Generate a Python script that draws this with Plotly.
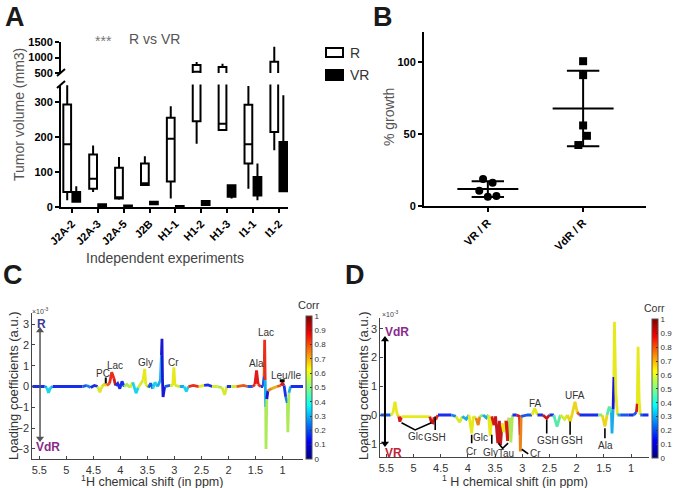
import numpy as np
import plotly.graph_objects as go

W, H = 674, 488
F = "Liberation Sans, Arial, sans-serif"


def px(x):
    return x / W


def py(y):
    return 1 - y / H


# ---------------- Panel A data ----------------
experiments = ["J2A-2", "J2A-3", "J2A-5", "J2B", "H1-1", "H1-2", "H1-3", "I1-1", "I1-2"]
R_min = [19, 43, 21, 60, 24, 181, 218, 52, 162]
R_q1 = [43, 52, 24, 63, 73, 245, 220, 124, 214]
R_med = [179, 81, 28, 68, 195, 540, 238, 179, 420]
R_q3 = [293, 150, 112, 124, 255, 758, 690, 292, 865]
R_max = [348, 176, 143, 145, 288, 855, 800, 346, 1348]
VR_min = [12, 1, 0.5, 5, 0.5, 4, 24, 19, 43]
VR_q1 = [15, 3, 1, 8, 1, 6, 29, 33, 45]
VR_med = [25, 5, 2, 11, 2, 11, 45, 60, 100]
VR_q3 = [43, 8, 4, 15, 3, 17, 62, 86, 186]
VR_max = [59, 10, 5, 17, 4, 20, 65, 124, 319]

# ---------------- Panel B data ----------------
b_groups = ["VR / R", "VdR / R"]
vr_r_vals = [18.7, 16.2, 10.6, 6.5, 6.9]
vr_r_offsets = [-0.05, 0.05, -0.09, 0.0, 0.09]
vdr_r_vals = [100.7, 91.0, 56.0, 48.8, 42.4]
vdr_r_offsets = [0.0, 0.0, 0.0, 0.04, -0.05]

# ---------------- Panel C data (ppm, loading x1e-3, corr) ----------------
c_ppm = [5.63, 5.40, 5.36, 5.33, 5.29, 5.25, 4.70, 4.62, 4.55, 4.48, 4.42, 4.38, 4.34, 4.30, 4.25,
         4.20, 4.16, 4.12, 4.09, 4.05, 4.01, 3.97, 3.93, 3.88, 3.82, 3.77, 3.71, 3.67, 3.62, 3.58,
         3.55, 3.53, 3.48, 3.44, 3.40, 3.36, 3.31, 3.26, 3.24, 3.23, 3.22, 3.21, 3.18, 3.08, 3.03,
         3.01, 2.99, 2.90, 2.82, 2.78, 2.74, 2.65, 2.55, 2.45, 2.38, 2.30, 2.20, 2.12, 2.07, 2.03,
         1.95, 1.85, 1.72, 1.65, 1.55, 1.51, 1.48, 1.45, 1.40, 1.36, 1.34, 1.335, 1.33, 1.32, 1.31,
         1.305, 1.29, 1.27, 1.20, 1.10, 1.03, 1.00, 0.97, 0.94, 0.91, 0.90, 0.88, 0.85, 0.62]
c_load = [0, 0, -0.05, -0.3, -0.05, 0, 0, 0.05, -0.05, 0.05, 0, -0.27, 0, 0.1, 0.05,
          0.15, 0.69, 0.4, 0.05, 0.15, -0.1, 0.25, 0, 0.1, -0.05, 0.2, -0.32, -0.05, 0.16, 0.3,
          0.85, 0.1, -0.05, 0.15, -0.1, 0.2, 0, 0.3, 1.5, 2.3, 0.3, -0.5, 0, 0.05, 0.05,
          0.92, 0.05, 0, 0, -0.23, 0, 0.05, 0, 0.05, 0.08, 0, 0, -0.05, -0.4, 0,
          0, 0, 0.05, 0, 0, 0.1, 0.77, 0.1, 0, 0, 0.5, 1.2, 2.25, 0.3, -1.0,
          -3.0, -0.6, -0.2, -0.1, 0, 0.05, 0.15, 0.05, -0.5, -0.8, -2.2, -0.3, 0, 0]
c_corr = [0.15, 0.15, 0.3, 0.35, 0.3, 0.15, 0.15, 0.2, 0.25, 0.15, 0.5, 0.6, 0.55, 0.65, 0.7,
          0.8, 0.85, 0.9, 0.8, 0.15, 0.1, 0.15, 0.3, 0.55, 0.4, 0.6, 0.35, 0.2, 0.6, 0.6,
          0.62, 0.6, 0.3, 0.2, 0.1, 0.35, 0.15, 0.3, 0.3, 0.1, 0.1, 0.1, 0.15, 0.2, 0.6,
          0.62, 0.6, 0.6, 0.3, 0.35, 0.3, 0.85, 0.62, 0.6, 0.15, 0.2, 0.6, 0.55, 0.6, 0.3,
          0.15, 0.6, 0.8, 0.15, 0.2, 0.85, 0.88, 0.85, 0.2, 0.15, 0.2, 0.8, 0.85, 0.3, 0.3,
          0.55, 0.1, 0.75, 0.7, 0.65, 0.8, 0.9, 0.6, 0.15, 0.25, 0.55, 0.3, 0.15, 0.15]

# ---------------- Panel D data ----------------
d_ppm = [5.61, 5.42, 5.38, 5.34, 5.30, 5.27, 5.25, 5.22, 4.70, 4.67, 4.64, 4.62, 4.58, 4.55, 4.30,
         4.22, 4.15, 4.10, 4.03, 3.98, 3.93, 3.90, 3.85, 3.81, 3.78, 3.72, 3.66, 3.62, 3.59, 3.56,
         3.52, 3.49, 3.45, 3.42, 3.40, 3.37, 3.34, 3.30, 3.27, 3.24, 3.21, 3.18, 3.10, 3.05, 3.04,
         3.035, 3.02, 2.90, 2.82, 2.77, 2.72, 2.62, 2.55, 2.50, 2.42, 2.36, 2.30, 2.22, 2.17, 2.12,
         2.08, 2.03, 1.99, 1.95, 1.60, 1.53, 1.48, 1.44, 1.40, 1.36, 1.35, 1.33, 1.315, 1.305, 1.28,
         1.25, 1.20, 1.05, 0.95, 0.90, 0.885, 0.87, 0.85, 0.83, 0.78, 0.675]
d_load = [0, 0, 0.05, 0.46, 0.02, -0.05, -0.23, -0.06, -0.06, -0.25, -0.27, -0.08, -0.12, 0, 0,
          -0.05, -0.25, -0.05, -0.15, 0, -0.64, -0.05, -0.1, -0.35, -0.05, 0, -0.1, 0, -0.73, -0.05,
          -0.35, -0.05, -0.98, -0.2, -1.05, -0.3, -0.6, -0.2, -0.9, -0.1, -0.95, 0, 0, -0.05, -0.7,
          -1.27, -0.05, 0, 0, 0.23, 0, 0, -0.12, 0, 0, -0.4, 0, -0.15, 0, -0.23,
          0.05, 0.46, 0.1, 0, 0, 0, -0.4, 0, 0.29, 0.1, -0.64, 0.2, 1.33, 3.24, 0.8,
          0, 0, 0, 0, 0.1, 0.4, 2.37, 0.5, 0, 0, 0]
d_corr = [0.15, 0.2, 0.6, 0.62, 0.6, 0.65, 0.9, 0.65, 0.62, 0.92, 0.92, 0.9, 0.85, 0.2, 0.15,
          0.25, 0.6, 0.3, 0.3, 0.2, 0.62, 0.4, 0.6, 0.75, 0.5, 0.2, 0.3, 0.35, 0.62, 0.65,
          0.9, 0.8, 0.92, 0.9, 0.92, 0.65, 0.62, 0.6, 0.9, 0.3, 0.55, 0.2, 0.15, 0.9, 0.9,
          0.75, 0.2, 0.15, 0.2, 0.62, 0.3, 0.15, 0.92, 0.6, 0.15, 0.45, 0.3, 0.6, 0.35, 0.65,
          0.62, 0.65, 0.8, 0.15, 0.15, 0.5, 0.65, 0.45, 0.45, 0.35, 0.3, 0.2, 0.1, 0.62, 0.62,
          0.6, 0.3, 0.2, 0.15, 0.2, 0.9, 0.62, 0.62, 0.85, 0.2, 0.15]

ppm_ticks = [5.5, 5, 4.5, 4, 3.5, 3, 2.5, 2, 1.5, 1]
corr_ticks = [round(0.1 * i, 1) for i in range(11)]

JET = [[0, "rgb(0,0,128)"], [0.125, "rgb(0,0,255)"], [0.375, "rgb(0,255,255)"],
       [0.625, "rgb(255,255,0)"], [0.875, "rgb(255,0,0)"], [1, "rgb(128,0,0)"]]
JET_STOPS = [(0, (0, 0, 128)), (0.125, (0, 0, 255)), (0.375, (0, 255, 255)),
             (0.625, (255, 255, 0)), (0.875, (255, 0, 0)), (1, (128, 0, 0))]


def jet(v):
    v = min(max(v, 0), 1)
    for (a, ca), (b, cb) in zip(JET_STOPS[:-1], JET_STOPS[1:]):
        if a <= v <= b:
            t = (v - a) / (b - a)
            c = [ca[k] + t * (cb[k] - ca[k]) for k in range(3)]
            c = [0.82 * c[k] + 0.18 * 140 for k in range(3)]
            return "rgb(%d,%d,%d)" % tuple(int(round(x)) for x in c)
    return "rgb(0,0,0)"


fig = go.Figure()

# ---------------- Panel A boxes ----------------
xr = [i - 0.18 for i in range(len(experiments))]
xv = [i + 0.17 for i in range(len(experiments))]
for yax in ["y", "y2"]:
    fig.add_trace(go.Box(x=xr, q1=R_q1, median=R_med, q3=R_q3, lowerfence=R_min, upperfence=R_max,
                         xaxis="x", yaxis=yax, fillcolor="white", line=dict(color="black", width=2),
                         width=0.3, whiskerwidth=0, boxpoints=False, showlegend=False, hoverinfo="skip"))
fig.add_trace(go.Box(x=xv, q1=VR_q1, median=VR_med, q3=VR_q3, lowerfence=VR_min, upperfence=VR_max,
                     xaxis="x", yaxis="y", fillcolor="black", line=dict(color="black", width=2),
                     width=0.3, whiskerwidth=0, boxpoints=False, showlegend=False, hoverinfo="skip"))

# ---------------- Panel B ----------------
for gi, (vals, offs, sym) in enumerate([(vr_r_vals, vr_r_offsets, "circle"),
                                         (vdr_r_vals, vdr_r_offsets, "square")]):
    fig.add_trace(go.Scatter(x=[gi + o for o in offs], y=vals, mode="markers", xaxis="x2", yaxis="y3",
                             marker=dict(symbol=sym, size=8, color="black"), showlegend=False,
                             hoverinfo="skip"))
    m = float(np.mean(vals))
    s = float(np.std(vals, ddof=1))
    lx = [gi - 0.32, gi + 0.32, None, gi, gi, None, gi - 0.17, gi + 0.17, None, gi - 0.17, gi + 0.17]
    ly = [m, m, None, m - s, m + s, None, m + s, m + s, None, m - s, m - s]
    fig.add_trace(go.Scatter(x=lx, y=ly, mode="lines", xaxis="x2", yaxis="y3",
                             line=dict(color="black", width=2), showlegend=False, hoverinfo="skip"))


# ---------------- Panels C / D spectra ----------------
def add_spectrum(ppm, load, corr, xa, ya):
    runs = []
    for i in range(len(ppm) - 1):
        c = corr[i] if abs(load[i]) > abs(load[i + 1]) else corr[i + 1]
        col = jet(c)
        if runs and runs[-1][0] == col:
            runs[-1][1].append(ppm[i + 1])
            runs[-1][2].append(load[i + 1])
        else:
            runs.append([col, [ppm[i], ppm[i + 1]], [load[i], load[i + 1]]])
    for col, rx, ry in runs:
        fig.add_trace(go.Scatter(x=rx, y=ry, mode="lines", xaxis=xa, yaxis=ya,
                                 line=dict(color=col, width=2.8), showlegend=False, hoverinfo="skip"))


add_spectrum(c_ppm, c_load, c_corr, "x3", "y4")
add_spectrum(d_ppm, d_load, d_corr, "x4", "y5")


def cbar(xa, ya, x0, yc, ln):
    fig.add_trace(go.Scatter(
        x=[3.0], y=[0], mode="markers", xaxis=xa, yaxis=ya, showlegend=False, hoverinfo="skip",
        marker=dict(size=1, opacity=0, color=[0.5], colorscale=JET, cmin=0, cmax=1, showscale=True,
                    colorbar=dict(x=px(x0), xref="paper", xanchor="left", xpad=0,
                                  y=py(yc), yref="paper", yanchor="middle", ypad=0,
                                  len=ln / H, lenmode="fraction", thickness=6, thicknessmode="pixels",
                                  outlinewidth=1, outlinecolor="#555", tickvals=corr_ticks,
                                  ticktext=[("%g" % v) for v in corr_ticks], ticks="inside", ticklen=2,
                                  tickcolor="#333", tickfont=dict(family=F, size=8, color="#333")))))


cbar("x3", "y4", 306, 387.4, 143.3)
cbar("x4", "y5", 652, 388.8, 139)


# double-headed arrows (line + triangle heads)
def darrow(xa, ya, xx, ytop, ybot, col, w):
    fig.add_trace(go.Scatter(x=[xx, xx], y=[ytop, ybot], mode="lines", xaxis=xa, yaxis=ya,
                             line=dict(color=col, width=w), showlegend=False, hoverinfo="skip"))
    fig.add_trace(go.Scatter(x=[xx, xx], y=[ytop, ybot], mode="markers", xaxis=xa, yaxis=ya,
                             marker=dict(symbol=["triangle-up", "triangle-down"], size=7, color=col),
                             showlegend=False, hoverinfo="skip"))


darrow("x3", "y4", 5.487, 2.7, -2.5, "#555", 1.5)
darrow("x4", "y5", 5.524, 2.62, -0.99, "black", 2)

# ---------------- Layout ----------------
bold_tick = dict(family=F, size=11, color="black", weight="bold")
gray_tick = dict(family=F, size=11, color="#333")
prism = dict(showgrid=False, zeroline=False, showline=True, linecolor="black", linewidth=2,
             ticks="outside", ticklen=4, tickwidth=1.5, tickcolor="black", tickfont=bold_tick,
             automargin=False)
matlab = dict(showgrid=False, zeroline=False, showline=True, linecolor="#444", linewidth=1,
              ticks="inside", ticklen=3, tickwidth=1, tickcolor="#444", tickfont=gray_tick,
              automargin=False)

fig.update_layout(
    template="none",
    width=W, height=H, autosize=False, margin=dict(l=0, r=0, t=0, b=0, pad=0, autoexpand=False),
    paper_bgcolor="white", plot_bgcolor="white", showlegend=False,
    font=dict(family=F),
    xaxis=dict(prism, domain=[px(61), px(288)], range=[-0.42, 8.35], anchor="y",
               tickvals=list(range(len(experiments))), ticktext=experiments, tickangle=-45),
    yaxis=dict(prism, domain=[py(207), py(84.5)], range=[0, 350], anchor="x",
               tickvals=[0, 100, 200, 300]),
    yaxis2=dict(prism, domain=[py(73), py(42)], range=[500, 1500], anchor="x",
                tickvals=[500, 1000, 1500]),
    xaxis2=dict(prism, domain=[px(424), px(646)], range=[-0.67, 1.66], anchor="y3",
                tickvals=[0, 1], ticktext=b_groups, tickangle=-45),
    yaxis3=dict(prism, domain=[py(206), py(32)], range=[0, 121], anchor="x2",
                tickvals=[0, 50, 100]),
    xaxis3=dict(matlab, domain=[px(32.3), px(303)], range=[5.63, 0.62], anchor="y4",
                tickvals=ppm_ticks, ticktext=[("%g" % v) for v in ppm_ticks]),
    yaxis4=dict(matlab, domain=[py(459.3), py(312.7)], range=[-3.5, 3.55], anchor="x3",
                tickvals=[-3, -2, -1, 0, 1, 2, 3]),
    xaxis4=dict(matlab, domain=[px(380.3), px(648.7)], range=[5.61, 0.675], anchor="y5",
                tickvals=ppm_ticks, ticktext=[("%g" % v) for v in ppm_ticks]),
    yaxis5=dict(matlab, domain=[py(457.3), py(318.3)], range=[-1.47, 3.36], anchor="x4",
                tickvals=[-1, 0, 1, 2, 3]),
)

shapes = []
# broken-axis marks
for (x0, y0, x1, y1) in [(57, 76, 65, 69), (57, 88, 65, 81)]:
    shapes.append(dict(type="line", xref="paper", yref="paper", x0=px(x0), y0=py(y0), x1=px(x1), y1=py(y1),
                       line=dict(color="black", width=2)))
# legend boxes (panel A)
shapes.append(dict(type="rect", xref="paper", yref="paper", x0=px(326), x1=px(343), y0=py(57), y1=py(48),
                   line=dict(color="black", width=2), fillcolor="white"))
shapes.append(dict(type="rect", xref="paper", yref="paper", x0=px(326), x1=px(343), y0=py(80), y1=py(70),
                   line=dict(color="black", width=2), fillcolor="black"))
# panel C markers
shapes.append(dict(type="line", xref="x3", yref="y4", x0=4.27, x1=4.27, y0=0.15, y1=0.43,
                   line=dict(color="black", width=2)))
shapes.append(dict(type="line", xref="x3", yref="y4", x0=1.05, x1=0.96, y0=0.28, y1=0.28,
                   line=dict(color="black", width=3)))
# panel D markers
d_marks = [
    ([5.22, 4.97, 4.67], [-0.27, -0.52, -0.27]),
    ([4.60, 4.60], [-0.06, -0.52]),
    ([3.93, 3.93], [-0.69, -0.98]),
    ([3.56, 3.56], [-0.69, -1.0]),
    ([3.44, 3.36, 3.26], [-0.98, -1.16, -0.98]),
    ([3.01, 2.89], [-1.19, -1.35]),
    ([2.55, 2.55], [-0.17, -0.64]),
    ([2.12, 2.12], [-0.23, -0.69]),
    ([1.48, 1.48], [-0.46, -0.81]),
]
for mx, my in d_marks:
    path = "M %g,%g " % (mx[0], my[0]) + " ".join("L %g,%g" % (a, b) for a, b in zip(mx[1:], my[1:]))
    shapes.append(dict(type="path", xref="x4", yref="y5", path=path, line=dict(color="black", width=1.6)))
fig.update_layout(shapes=shapes)

anns = []


def T(text, x, y, size=12, color="#333", bold=False, xanchor="center", yanchor="middle", angle=0):
    anns.append(dict(text=text, x=px(x), y=py(y), xref="paper", yref="paper", showarrow=False,
                     xanchor=xanchor, yanchor=yanchor, textangle=angle,
                     font=dict(family=F, size=size, color=color, weight="bold" if bold else "normal")))


# panel letters
T("A", 3, 0, 27, "#1a1a1a", True, "left", "top")
T("B", 371, 0, 27, "#1a1a1a", True, "left", "top")
T("C", 1, 275, 27, "#1a1a1a", True, "left")
T("D", 343, 275, 27, "#1a1a1a", True, "left")
# panel A texts
T("***", 103, 41, 14, "#777")
T("R vs VR", 154, 39, 14, "#555")
T("R", 348, 53, 14, "#333", xanchor="left")
T("VR", 348, 75, 14, "#333", xanchor="left")
T("Tumor volume (mm3)", 19, 115, 14, "#555", angle=-90)
T("Independent experiments", 165, 258, 14, "#444")
# panel B texts
T("% growth", 389, 117, 14, "#555", angle=-90)
# panel C texts
T("×10<sup>-3</sup>", 30, 311, 7, "#444", xanchor="left")
T("R", 35, 324, 12, "#3a3a9a", True, "left")
T("VdR", 34, 447, 12, "#8a2a8a", True, "left")
T("Loading coefficients (a.u.)", 13, 386, 13, "#333", angle=-90)
T("<sup>1</sup>H chemical shift (in ppm)", 152, 481, 12.5, "#333")
T("Corr", 309, 305, 11, "#333")
for lab, x, y in [("PC", 102.7, 373.3), ("Lac", 115, 365.7), ("Gly", 145, 362.7), ("Cr", 174, 362.3),
                  ("Ala", 256.7, 363.3), ("Lac", 266, 332.7), ("Leu/Ile", 285.7, 375.7)]:
    T(lab, x, y, 10, "#333")
# panel D texts
T("×10<sup>-3</sup>", 380, 314, 7, "#444", xanchor="left")
T("VdR", 383, 332, 12, "#8a2a8a", True, "left")
T("VR", 383, 453, 12, "#c0223b", True, "left")
T("Loading coefficients (a.u.)", 363, 386, 13, "#333", angle=-90)
T("<sup>1</sup> H chemical shift (in ppm)", 515, 481, 12.5, "#333")
T("Corr", 654, 308, 10.5, "#333")
for lab, x, y in [("Glc", 415, 436.7), ("GSH", 435, 437.3), ("Cr", 471.7, 451.7), ("Glc", 480, 437.3),
                  ("Gly", 490, 452.7), ("Tau", 506, 453.3), ("Cr", 535, 453.3), ("FA", 535, 403.3),
                  ("GSH", 547.7, 440.7), ("GSH", 571.7, 440.7), ("UFA", 575, 395), ("Ala", 605, 445.7)]:
    T(lab, x, y, 10, "#333")

fig.update_layout(annotations=anns)
fig.write_html("out.html", config={"responsive": False, "displayModeBar": False},
               post_script="document.body.style.margin='0';document.body.style.overflow='hidden';")
